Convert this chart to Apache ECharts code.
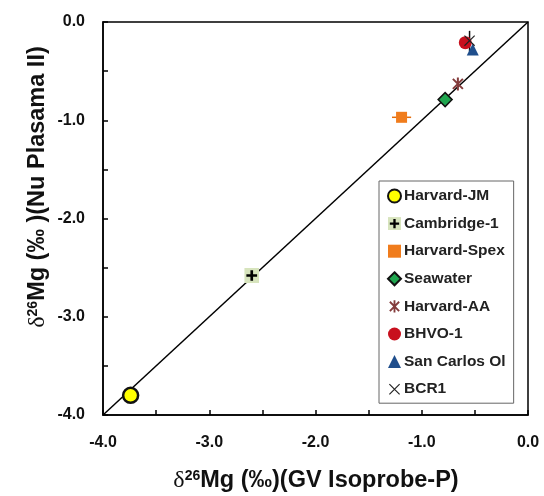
<!DOCTYPE html>
<html>
<head>
<meta charset="utf-8">
<script src="https://cdn.jsdelivr.net/npm/echarts@6/dist/echarts.min.js"></script>
<style>
  html, body { margin: 0; padding: 0; background: #fff; }
  #chart { width: 544px; height: 496px; }
</style>
</head>
<body>
<div id="chart"></div>
<script>
// sample names and their delta26Mg values [GV Isoprobe-P, Nu Plasma II]
const samples = ["Harvard-JM", "Cambridge-1", "Harvard-Spex", "Seawater", "Harvard-AA", "BHVO-1", "San Carlos Ol", "BCR1"];
const harvardJM = [[-3.74, -3.80]];
const cambridge1 = [[-2.60, -2.58]];
const harvardSpex = [[-1.19, -0.97]];
const seawater = [[-0.78, -0.79]];
const harvardAA = [[-0.66, -0.63]];
const bhvo1 = [[-0.59, -0.21]];
const sanCarlos = [[-0.52, -0.28]];
const bcr1 = [[-0.55, -0.19]];
// error bars [x1, y1, x2, y2]
const errorBars = [[-1.28, -0.97, -1.10, -0.97], [-0.55, -0.09, -0.55, -0.30]];
const oneToOne = [[-4, -4], [0, 0]];

function svgIcon(svg) {
  return "image://data:image/svg+xml;charset=utf-8," + encodeURIComponent(svg);
}
const crossIcon = svgIcon("<svg xmlns='http://www.w3.org/2000/svg' width='28' height='28'><rect width='28' height='28' fill='#d7e4bd'/><path d='M14 4v20M4 14h20' stroke='#000' stroke-width='5'/></svg>");
const starIcon = svgIcon("<svg xmlns='http://www.w3.org/2000/svg' width='28' height='28'><path d='M4 4L24 24M24 4L4 24M14 1v26' stroke='#843c3c' stroke-width='4'/></svg>");
const xIcon = svgIcon("<svg xmlns='http://www.w3.org/2000/svg' width='28' height='28'><path d='M3 3L25 25M25 3L3 25' stroke='#222' stroke-width='2.5'/></svg>");

const chart = echarts.init(document.getElementById("chart"));
const labelFont = { fontFamily: "Liberation Sans, Arial", fontWeight: "bold", fontSize: 16, color: "#111" };
const titleRich = {
  d: { fontFamily: "Liberation Serif", fontSize: 24, fill: "#111" },
  s: { fontFamily: "Liberation Sans", fontWeight: "bold", fontSize: 14, fill: "#111", verticalAlign: "top", padding: [0, 0, 10, 0] },
  b: { fontFamily: "Liberation Sans", fontWeight: "bold", fontSize: 23.5, fill: "#111" }
};

const option = {
  animation: false,
  grid: { left: 103, right: 16, top: 22, bottom: 81, show: true, borderColor: "#000", borderWidth: 1.5 },
  legend: {
    orient: "vertical",
    left: 379,
    top: 181,
    padding: [7, 8, 6, 8],
    itemGap: 11.6,
    itemWidth: 13,
    itemHeight: 13,
    borderColor: "#666",
    borderWidth: 1,
    backgroundColor: "#fff",
    data: samples,
    textStyle: { fontFamily: "Liberation Sans, Arial", fontWeight: "bold", fontSize: 15.5, color: "#222", lineHeight: 16, padding: [0, 0, 0, -2] }
  },
  xAxis: {
    type: "value", min: -4, max: 0, interval: 0.5,
    axisLine: { onZero: false, lineStyle: { color: "#000", width: 1.5 } },
    axisTick: { inside: true, length: 5, lineStyle: { color: "#000", width: 1.5 } },
    splitLine: { show: false },
    axisLabel: Object.assign({ margin: 20, formatter: v => (Math.abs(v % 1) < 1e-9 ? v.toFixed(1) : "") }, labelFont)
  },
  yAxis: {
    type: "value", min: -4, max: 0, interval: 0.5,
    axisLine: { onZero: false, lineStyle: { color: "#000", width: 1.5 } },
    axisTick: { inside: true, length: 5, lineStyle: { color: "#000", width: 1.5 } },
    splitLine: { show: false },
    axisLabel: Object.assign({ margin: 18, formatter: v => (Math.abs(v % 1) < 1e-9 ? v.toFixed(1) : "") }, labelFont)
  },
  graphic: [
    {
      type: "text", x: 316, y: 481,
      style: { text: "{d|δ}{s|26}{b|Mg (‰)(GV Isoprobe-P)}", align: "center", verticalAlign: "middle", rich: titleRich }
    },
    {
      type: "text", x: 38, y: 187, rotation: Math.PI / 2,
      style: { text: "{d|δ}{s|26}{b|Mg (‰ )(Nu Plasama II)}", align: "center", verticalAlign: "middle", rich: titleRich }
    }
  ],
  series: [
    {
      name: "1:1", type: "line", data: oneToOne, symbol: "none", silent: true, z: 1,
      lineStyle: { color: "#000", width: 1.5 }
    },
    {
      name: "err", type: "custom", z: 2, silent: true, data: errorBars,
      renderItem: (params, api) => {
        const p1 = api.coord([api.value(0), api.value(1)]);
        const p2 = api.coord([api.value(2), api.value(3)]);
        return { type: "line", shape: { x1: p1[0], y1: p1[1], x2: p2[0], y2: p2[1] }, style: { stroke: params.dataIndex === 0 ? "#e46c0a" : "#111", lineWidth: 1.5 } };
      }
    },
    { name: "Harvard-JM", type: "scatter", data: harvardJM, symbol: "circle", symbolSize: 15, z: 5,
      itemStyle: { color: "#ffff00", borderColor: "#111", borderWidth: 2.5, opacity: 1 } },
    { name: "Cambridge-1", type: "scatter", data: cambridge1, symbol: crossIcon, symbolSize: 15, z: 5, itemStyle: { opacity: 1 } },
    { name: "Harvard-Spex", type: "scatter", data: harvardSpex, symbol: "rect", symbolSize: 11, z: 5,
      itemStyle: { color: "#f07c1c", opacity: 1 } },
    { name: "Seawater", type: "scatter", data: seawater, symbol: "diamond", symbolSize: 14, z: 5,
      itemStyle: { color: "#1fa64f", borderColor: "#111", borderWidth: 1.5, opacity: 1 } },
    { name: "Harvard-AA", type: "scatter", data: harvardAA, symbol: starIcon, symbolSize: 14, z: 5, itemStyle: { opacity: 1 } },
    { name: "BHVO-1", type: "scatter", data: bhvo1, symbol: "circle", symbolSize: 13, z: 4,
      itemStyle: { color: "#c8101e", opacity: 1 } },
    { name: "San Carlos Ol", type: "scatter", data: sanCarlos, symbol: "triangle", symbolSize: 12, z: 5,
      itemStyle: { color: "#1f4e8c", opacity: 1 } },
    { name: "BCR1", type: "scatter", data: bcr1, symbol: xIcon, symbolSize: 13, z: 6, itemStyle: { opacity: 1 } }
  ]
};
chart.setOption(option);
window.addEventListener("resize", () => chart.resize());
</script>
</body>
</html>
